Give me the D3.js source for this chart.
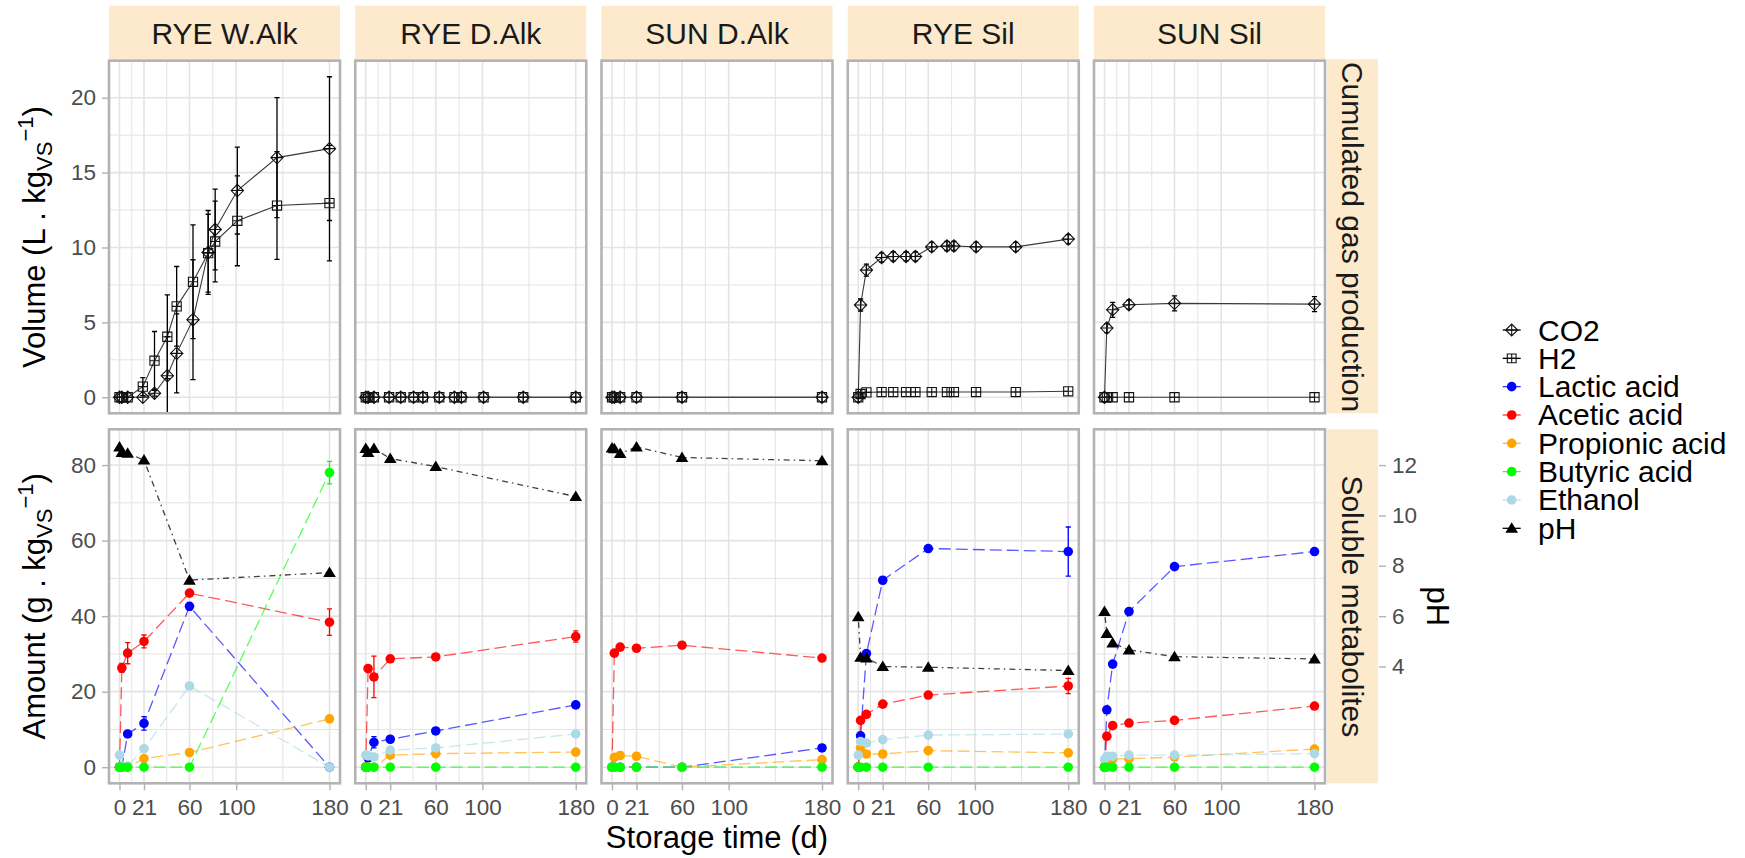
<!DOCTYPE html>
<html><head><meta charset="utf-8">
<script src="https://cdn.jsdelivr.net/npm/d3@7"></script>
<style>body{margin:0;background:#fff} svg{display:block} text{font-family:"Liberation Sans",Arial,sans-serif}</style>
</head><body><svg id="c" width="1745" height="858"></svg>
<script>
// ---------------- data ----------------
const panels = ["RYE W.Alk", "RYE D.Alk", "SUN D.Alk", "RYE Sil", "SUN Sil"];
const xTicks = [0, 21, 60, 100, 180];
const xMinor = [10.5, 40.5, 80, 140];
const gasTicks = [0, 5, 10, 15, 20];
const gasMinor = [2.5, 7.5, 12.5, 17.5];
const metTicks = [0, 20, 40, 60, 80];
const metMinor = [10, 30, 50, 70];
const phTicks = [4, 6, 8, 10, 12];

const daysLong = [0, 2, 7, 20, 30, 41, 49, 63, 76, 82, 101, 135, 180];
const daysShort = [0, 2, 7, 21, 60, 180];
const gasDays = [daysLong, daysLong, daysShort, daysLong, daysShort];
const metDays = [0, 2, 7, 21, 60, 180];

const co2 = [
  [0, 0, 0, 0, 0.27, 1.44, 2.93, 5.18, 9.67, 11.2, 13.8, 16.0, 16.6],
  [0, 0, 0, 0, 0, 0, 0, 0, 0, 0, 0, 0, 0],
  [0, 0, 0, 0, 0, 0],
  [0, 6.16, 8.49, 9.33, 9.4, 9.4, 9.4, 10.04, 10.1, 10.1, 10.04, 10.04, 10.56],
  [0, 4.62, 5.84, 6.18, 6.27, 6.22]
];
const co2Err = [
  [0, 0, 0, 0, 0.2, 2.6, 2.64, 4.0, 2.8, 2.7, 2.9, 4.0, 4.8],
  [0, 0, 0, 0, 0, 0, 0, 0, 0, 0, 0, 0, 0],
  [0, 0, 0, 0, 0, 0],
  [0, 0.4, 0.4, 0.3, 0.3, 0.3, 0.3, 0.3, 0.3, 0.3, 0.3, 0.3, 0.3],
  [0, 0.3, 0.5, 0.3, 0.5, 0.5]
];
const h2 = [
  [0, 0, 0, 0.71, 2.44, 4.04, 6.07, 7.71, 9.62, 10.4, 11.78, 12.8, 12.96],
  [0, 0, 0, 0, 0, 0, 0, 0, 0, 0, 0, 0, 0],
  [0, 0, 0, 0, 0, 0],
  [0, 0.22, 0.33, 0.35, 0.35, 0.35, 0.35, 0.35, 0.35, 0.35, 0.35, 0.35, 0.4],
  [0, 0, 0, 0, 0, 0]
];
const h2Err = [
  [0, 0, 0, 0.6, 1.95, 2.8, 2.66, 3.8, 2.6, 2.7, 3.0, 3.6, 3.86],
  [0, 0, 0, 0, 0, 0, 0, 0, 0, 0, 0, 0, 0],
  [0, 0, 0, 0, 0, 0],
  [0, 0, 0, 0, 0, 0, 0, 0, 0, 0, 0, 0, 0],
  [0, 0, 0, 0, 0, 0]
];

const lactic = [
  [0, 0, 8.8, 11.6, 42.6, 0],
  [0, 2.5, 6.6, 7.4, 9.6, 16.5],
  [0, 0, 0, 0, 0, 5.1],
  [0, 8.3, 30.1, 49.5, 57.9, 57.1],
  [0, 15.2, 27.3, 41.2, 53.1, 57.1]
];
const lacticErr = [
  [0, 0, 0.6, 1.8, 1.0, 0],
  [0, 0.5, 1.5, 0, 0, 0],
  [0, 0, 0, 0, 0, 0],
  [0, 0, 0, 0, 0, 6.5],
  [0, 0, 0, 0, 0, 0]
];
const acetic = [
  [0, 26.3, 30.2, 33.3, 46.1, 38.4],
  [0, 26.1, 23.9, 28.7, 29.2, 34.6],
  [0, 30.2, 31.8, 31.5, 32.3, 28.9],
  [0, 12.4, 14.0, 16.7, 19.1, 21.5],
  [0, 8.2, 11.0, 11.7, 12.4, 16.2]
];
const aceticErr = [
  [0, 1.2, 2.8, 1.7, 0.8, 3.5],
  [0, 0, 5.5, 0, 0, 1.5],
  [0, 0, 0, 0, 0, 0],
  [0, 0, 0, 0, 0, 2.0],
  [0, 0, 0, 0, 0, 0]
];
const propionic = [
  [0, 0, 0, 2.3, 3.9, 12.8],
  [0, 0, 0, 3.2, 3.6, 4.0],
  [0, 2.6, 3.1, 2.9, 0, 2.0],
  [0, 5.1, 3.5, 3.5, 4.4, 3.8],
  [0, 1.8, 2.2, 2.2, 2.7, 4.8]
];
const butyric = [
  [0, 0, 0, 0, 0, 78.0],
  [0, 0, 0, 0, 0, 0],
  [0, 0, 0, 0, 0, 0],
  [0, 0, 0, 0, 0, 0],
  [0, 0, 0, 0, 0, 0]
];
const butyricErr = [
  [0, 0, 0, 0, 0, 3.0],
  [0, 0, 0, 0, 0, 0],
  [0, 0, 0, 0, 0, 0],
  [0, 0, 0, 0, 0, 0],
  [0, 0, 0, 0, 0, 0]
];
const ethanol = [
  [3.2, 0.3, 0.3, 4.9, 21.5, 0],
  [3.2, 3.0, 2.7, 4.5, 5.1, 8.8],
  [0, 0, 0, 0, 0, 0],
  [3.2, 6.8, 6.4, 7.3, 8.5, 8.8],
  [2.0, 2.9, 2.9, 3.2, 3.2, 3.6]
];
const ph = [
  [12.72, 12.5, 12.47, 12.2, 7.43, 7.73],
  [12.66, 12.5, 12.66, 12.26, 11.94, 10.75],
  [12.68, 12.65, 12.46, 12.72, 12.3, 12.17],
  [5.98, 4.37, 4.34, 4.0, 3.97, 3.84],
  [6.18, 5.31, 4.93, 4.66, 4.39, 4.3]
];
const phFactor = 20 / 3; // pH drawn on the amount axis (secondary axis = amount * 0.15)

const metSeries = [
  {name: "Lactic acid", vals: lactic, err: lacticErr, color: "#0000FF"},
  {name: "Acetic acid", vals: acetic, err: aceticErr, color: "#FF0000"},
  {name: "Propionic acid", vals: propionic, err: null, color: "#FFA500"},
  {name: "Ethanol", vals: ethanol, err: null, color: "#ADD8E6"},
  {name: "Butyric acid", vals: butyric, err: butyricErr, color: "#00FF00"}
];
const legendItems = [
  {name: "CO2", type: "co2", color: "#000"},
  {name: "H2", type: "h2", color: "#000"},
  {name: "Lactic acid", type: "dot", color: "#0000FF"},
  {name: "Acetic acid", type: "dot", color: "#FF0000"},
  {name: "Propionic acid", type: "dot", color: "#FFA500"},
  {name: "Butyric acid", type: "dot", color: "#00FF00"},
  {name: "Ethanol", type: "dot", color: "#ADD8E6"},
  {name: "pH", type: "tri", color: "#000"}
];

// ---------------- layout ----------------
const svg = d3.select("#c");
const PW = 231, PITCH = 246.25, X0 = 109;
const STRIP_BG = "#FDE9CC";
const GRID = "#E4E4E4", BORDER = "#B3B3B3", TICKTXT = "#4D4D4D";
const gasTop = 60.7, gasBot = 413.3, metTop = 429.3, metBot = 783.3;

const yGas = d3.scaleLinear().domain([-1.07, 22.47]).range([gasBot, gasTop]);
const yMet = d3.scaleLinear().domain([-4.26, 89.47]).range([metBot, metTop]);
const yPh = d3.scaleLinear().domain([-4.26 / phFactor, 89.47 / phFactor]).range([metBot, metTop]);

const defs = svg.append("defs");

function diamondPath(x, y, r) {
  return `M${x - r},${y}L${x},${y - r}L${x + r},${y}L${x},${y + r}Z M${x - r},${y}H${x + r} M${x},${y - r}V${y + r}`;
}
function squarePath(x, y, r) {
  return `M${x - r},${y - r}H${x + r}V${y + r}H${x - r}Z M${x - r},${y}H${x + r} M${x},${y - r}V${y + r}`;
}
function triPath(x, y, r) {
  return `M${x},${y - r}L${x + r * 1.05},${y + r * 0.75}L${x - r * 1.05},${y + r * 0.75}Z`;
}

function styleAxis(g) {
  g.select(".domain").remove();
  g.selectAll(".tick line").attr("stroke", BORDER).attr("stroke-width", 1.4);
  g.selectAll(".tick text").attr("fill", TICKTXT).style("font-size", "22.5px")
    .style("font-family", '"Liberation Sans",Arial,sans-serif');
  g.attr("font-size", null).attr("font-family", null);
}

function drawErr(g, xs, ys, t, v, e, color) {
  if (!e) return;
  const x = xs(t), cw = 2.6;
  g.append("path")
    .attr("d", `M${x},${ys(v - e)}V${ys(v + e)} M${x - cw},${ys(v - e)}H${x + cw} M${x - cw},${ys(v + e)}H${x + cw}`)
    .attr("stroke", color).attr("stroke-width", 1.3).attr("fill", "none");
}

panels.forEach((name, i) => {
  const gx = X0 + i * PITCH;
  const xs = d3.scaleLinear().domain([-9, 189]).range([gx, gx + PW]);

  // top strip
  svg.append("rect").attr("x", gx).attr("y", 5.7).attr("width", PW).attr("height", 55).attr("fill", STRIP_BG);
  svg.append("text").attr("x", gx + PW / 2).attr("y", 43.6).attr("text-anchor", "middle")
    .style("font-size", "30px").attr("fill", "#1A1A1A").text(name);

  [["gas", gasTop, gasBot, yGas, gasTicks, gasMinor], ["met", metTop, metBot, yMet, metTicks, metMinor]]
  .forEach(([row, top, bot, ys, ticks, minor]) => {
    const cid = `clip-${row}-${i}`;
    defs.append("clipPath").attr("id", cid).append("rect")
      .attr("x", gx).attr("y", top).attr("width", PW).attr("height", bot - top);
    svg.append("rect").attr("x", gx).attr("y", top).attr("width", PW).attr("height", bot - top).attr("fill", "#fff");
    const grid = svg.append("g");
    minor.forEach(v => grid.append("line").attr("x1", gx).attr("x2", gx + PW).attr("y1", ys(v)).attr("y2", ys(v))
      .attr("stroke", GRID).attr("stroke-width", 1.0));
    xMinor.forEach(v => grid.append("line").attr("x1", xs(v)).attr("x2", xs(v)).attr("y1", top).attr("y2", bot)
      .attr("stroke", GRID).attr("stroke-width", 1.0));
    ticks.forEach(v => grid.append("line").attr("x1", gx).attr("x2", gx + PW).attr("y1", ys(v)).attr("y2", ys(v))
      .attr("stroke", GRID).attr("stroke-width", 1.6));
    xTicks.forEach(v => grid.append("line").attr("x1", xs(v)).attr("x2", xs(v)).attr("y1", top).attr("y2", bot)
      .attr("stroke", GRID).attr("stroke-width", 1.6));

    const dg = svg.append("g").attr("clip-path", `url(#${cid})`);

    if (row === "gas") {
      const days = gasDays[i];
      const line = d3.line().x(d => xs(d[0])).y(d => ys(d[1]));
      [[co2, co2Err, "co2"], [h2, h2Err, "h2"]].forEach(([vals, errs, kind]) => {
        const pts = days.map((t, k) => [t, vals[i][k]]);
        dg.append("path").attr("d", line(pts)).attr("fill", "none").attr("stroke", "#3a3a3a").attr("stroke-width", 1.1);
        days.forEach((t, k) => { if (errs[i][k] > 0) drawErr(dg, xs, ys, t, vals[i][k], errs[i][k], "#000"); });
        pts.forEach(p => {
          dg.append("path").attr("d", kind === "co2" ? diamondPath(xs(p[0]), ys(p[1]), 6.2) : squarePath(xs(p[0]), ys(p[1]), 4.6))
            .attr("fill", "none").attr("stroke", "#111").attr("stroke-width", 1.1);
        });
      });
    } else {
      const line = d3.line().x(d => xs(d[0])).y(d => ys(d[1]));
      metSeries.forEach(s => {
        const pts = metDays.map((t, k) => [t, s.vals[i][k]]);
        dg.append("path").attr("d", line(pts)).attr("fill", "none").attr("stroke", s.color)
          .attr("stroke-opacity", 0.65).attr("stroke-width", 1.3).attr("stroke-dasharray", "12,5");
      });
      metSeries.forEach(s => {
        metDays.forEach((t, k) => { if (s.err && s.err[i][k] > 0) drawErr(dg, xs, ys, t, s.vals[i][k], s.err[i][k], s.color); });
      });
      metSeries.forEach(s => {
        metDays.forEach((t, k) => {
          dg.append("circle").attr("cx", xs(t)).attr("cy", ys(s.vals[i][k])).attr("r", 4.8).attr("fill", s.color);
        });
      });
      // pH on secondary scale
      const lp = d3.line().x(d => xs(d[0])).y(d => yPh(d[1]));
      const ppts = metDays.map((t, k) => [t, ph[i][k]]);
      dg.append("path").attr("d", lp(ppts)).attr("fill", "none").attr("stroke", "#000").attr("stroke-opacity", 0.75)
        .attr("stroke-width", 1.3).attr("stroke-dasharray", "1.5,4,6,4");
      ppts.forEach(p => dg.append("path").attr("d", triPath(xs(p[0]), yPh(p[1]), 6)).attr("fill", "#000"));
    }

    svg.append("rect").attr("x", gx).attr("y", top).attr("width", PW).attr("height", bot - top)
      .attr("fill", "none").attr("stroke", BORDER).attr("stroke-width", 2.6);
  });

  // x axis
  const ax = svg.append("g").attr("transform", `translate(0,${metBot})`)
    .call(d3.axisBottom(xs).tickValues(xTicks).tickSize(7).tickPadding(9).tickFormat(d3.format("d")));
  styleAxis(ax);
});

// y axes (left)
const ag = svg.append("g").attr("transform", `translate(${X0},0)`)
  .call(d3.axisLeft(yGas).tickValues(gasTicks).tickSize(7).tickPadding(6));
styleAxis(ag);
const am = svg.append("g").attr("transform", `translate(${X0},0)`)
  .call(d3.axisLeft(yMet).tickValues(metTicks).tickSize(7).tickPadding(6));
styleAxis(am);

// right strips
const RS0 = 1327, RSW = 51;
[["Cumulated gas production", gasTop, gasBot], ["Soluble metabolites", metTop, metBot]].forEach(([lab, t, b]) => {
  const extra = lab[0] === "C" ? 1.4 : 0;
  svg.append("rect").attr("x", RS0).attr("y", t - extra).attr("width", RSW).attr("height", b - t + extra).attr("fill", STRIP_BG);
  svg.append("text").attr("transform", `translate(${RS0 + RSW / 2 - 10.7},${(t + b) / 2}) rotate(90)`)
    .attr("text-anchor", "middle").style("font-size", "30px").attr("fill", "#1A1A1A").text(lab);
});

// secondary pH axis
const ap = svg.append("g").attr("transform", `translate(${RS0 + RSW + 1},0)`)
  .call(d3.axisRight(yPh).tickValues(phTicks).tickSize(7).tickPadding(6));
styleAxis(ap);
svg.append("text").attr("transform", `translate(1427,${(metTop + metBot) / 2}) rotate(90)`)
  .attr("text-anchor", "middle").style("font-size", "31px").attr("fill", "#000").text("pH");

// axis titles
svg.append("text").attr("x", X0 + (4 * PITCH + PW) / 2).attr("y", 848).attr("text-anchor", "middle")
  .style("font-size", "31px").attr("fill", "#000").text("Storage time (d)");

function yTitle(x, y, main) {
  const t = svg.append("text").attr("transform", `translate(${x},${y}) rotate(-90)`)
    .attr("text-anchor", "middle").style("font-size", "31px").attr("fill", "#000");
  t.append("tspan").text(main + " . kg");
  t.append("tspan").attr("dy", 7).style("font-size", "22px").text("VS");
  t.append("tspan").attr("dy", -19).style("font-size", "22px").text("\u22121");
  t.append("tspan").attr("dy", 12).text(")");
}
yTitle(45, (gasTop + gasBot) / 2, "Volume (L");
yTitle(45, (metTop + metBot) / 2, "Amount (g");

// legend
const LX = 1511.7, LY = 330, LS = 28.33;
legendItems.forEach((it, k) => {
  const y = LY + k * LS;
  const g = svg.append("g");
  g.append("line").attr("x1", LX - 9).attr("x2", LX + 9).attr("y1", y).attr("y2", y)
    .attr("stroke", it.color).attr("stroke-width", 1.3).attr("stroke-opacity", it.type === "dot" ? 0.8 : 1);
  if (it.type === "co2") g.append("path").attr("d", diamondPath(LX, y, 6)).attr("fill", "none").attr("stroke", "#111").attr("stroke-width", 1.1);
  if (it.type === "h2") g.append("path").attr("d", squarePath(LX, y, 4.4)).attr("fill", "none").attr("stroke", "#111").attr("stroke-width", 1.1);
  if (it.type === "dot") g.append("circle").attr("cx", LX).attr("cy", y).attr("r", 4.8).attr("fill", it.color);
  if (it.type === "tri") g.append("path").attr("d", triPath(LX, y, 6)).attr("fill", "#000");
  svg.append("text").attr("x", 1538).attr("y", y + 10.5).style("font-size", "30px").attr("fill", "#000").text(it.name);
});
</script>
</body></html>
